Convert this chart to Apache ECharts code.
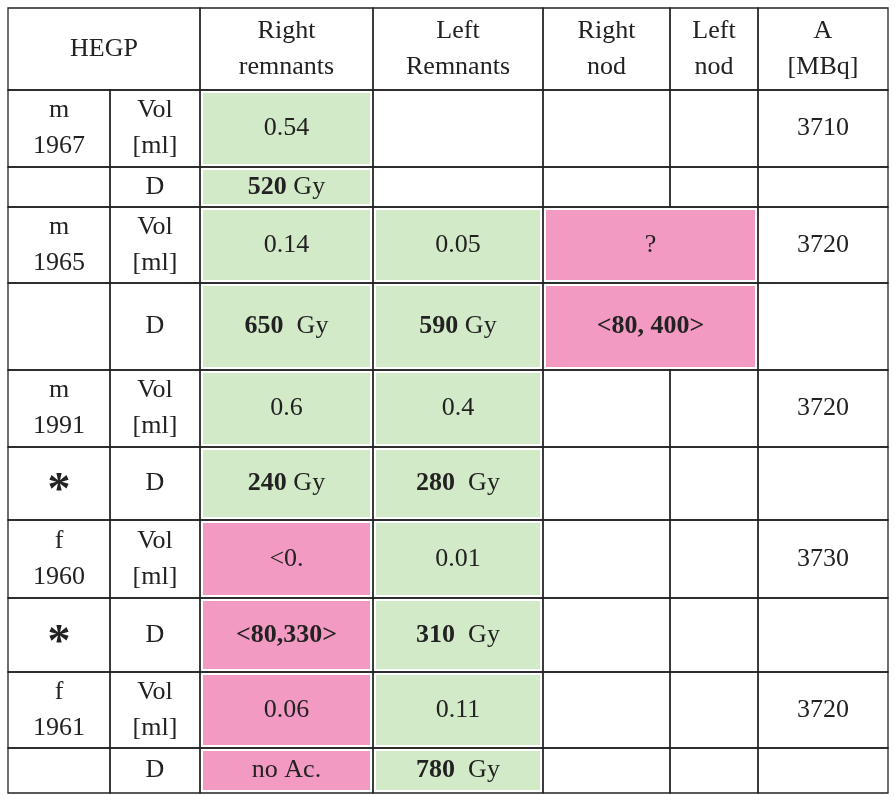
<!DOCTYPE html>
<html><head><meta charset="utf-8">
<script src="https://cdn.jsdelivr.net/npm/echarts@6/dist/echarts.min.js"></script>
<style>html,body{margin:0;background:#fff}#c{width:895px;height:800px}</style>
</head><body><div id="c"></div>
<script>
// table structure
const colEdges = [0, 102, 192, 365, 535, 662, 750, 880];
const rowEdges = [0, 82, 159, 199, 275, 362, 439, 512, 590, 664, 740, 785];
const headers = ["HEGP", "Right\nremnants", "Left\nRemnants", "Right\nnod", "Left\nnod", "A\n[MBq]"];
// body columns (one entry per body row)
const patient = ["m\n1967", "", "m\n1965", "", "m\n1991", "{s|*}", "f\n1960", "{s|*}", "f\n1961", ""];
const quantity = ["Vol\n[ml]", "D", "Vol\n[ml]", "D", "Vol\n[ml]", "D", "Vol\n[ml]", "D", "Vol\n[ml]", "D"];
const rightRemnants = ["0.54", "{b|520} Gy", "0.14", "{b|650}  Gy", "0.6", "{b|240} Gy", "<0.", "{b|<80,330>}", "0.06", "no Ac."];
const rightRemFill = ["g", "g", "g", "g", "g", "g", "p", "p", "p", "p"];
const leftRemnants = ["", "", "0.05", "{b|590} Gy", "0.4", "{b|280}  Gy", "0.01", "{b|310}  Gy", "0.11", "{b|780}  Gy"];
const leftRemFill = ["", "", "g", "g", "g", "g", "g", "g", "g", "g"];
const nodules = ["", "", "?", "{b|<80, 400>}", "", "", "", "", "", ""]; // merged right+left nod
const nodFill = ["", "", "p", "p", "", "", "", "", "", ""];
const activity = ["3710", "", "3720", "", "3720", "", "3730", "", "3720", ""];

const fills = { g: "#d3eac8", p: "#f39ac3", "": null };
const cells = []; // [c0,c1,r0,r1,text,fill]
cells.push([0, 2, 0, 1, headers[0], ""]);
for (let i = 1; i < headers.length; i++) cells.push([i + 1, i + 2, 0, 1, headers[i], ""]);
for (let r = 0; r < patient.length; r++) {
  const R = r + 1;
  cells.push([0, 1, R, R + 1, patient[r], ""]);
  cells.push([1, 2, R, R + 1, quantity[r], ""]);
  cells.push([2, 3, R, R + 1, rightRemnants[r], rightRemFill[r]]);
  cells.push([3, 4, R, R + 1, leftRemnants[r], leftRemFill[r]]);
  if (nodFill[r]) cells.push([4, 6, R, R + 1, nodules[r], nodFill[r]]);
  else { cells.push([4, 5, R, R + 1, "", ""]); cells.push([5, 6, R, R + 1, "", ""]); }
  cells.push([6, 7, R, R + 1, activity[r], ""]);
}
const data = cells.map(c => [colEdges[c[0]], colEdges[c[1]], rowEdges[c[2]], rowEdges[c[3]], c[4], c[5]]);

const chart = echarts.init(document.getElementById('c'));
chart.setOption({
  animation: false,
  grid: { left: 8, top: 8, width: 880, height: 785 },
  xAxis: { type: 'value', min: 0, max: 880, show: false },
  yAxis: { type: 'value', min: 0, max: 785, inverse: true, show: false },
  series: [{
    type: 'custom',
    data: data,
    renderItem: function (params, api) {
      const d = data[params.dataIndex];
      const p0 = api.coord([d[0], d[2]]);
      const p1 = api.coord([d[1], d[3]]);
      const x = p0[0], y = p0[1], w = p1[0] - p0[0], h = p1[1] - p0[1];
      const children = [];
      if (fills[d[5]]) children.push({ type: 'rect', shape: { x: x + 3, y: y + 3, width: w - 6, height: h - 6 }, style: { fill: fills[d[5]] } });
      children.push({ type: 'rect', shape: { x: x, y: y, width: w, height: h }, style: { fill: null, stroke: '#222', lineWidth: 1.3 } });
      children.push({ type: 'text', x: x + w / 2, y: y + h / 2, style: {
        text: d[4], align: 'center', verticalAlign: 'middle',
        font: '26px "Liberation Serif", serif', fill: '#222', lineHeight: 36,
        rich: { b: { fontWeight: 'bold', fontSize: 26, fontFamily: 'Liberation Serif' },
                s: { fontWeight: 'bold', fontSize: 46, fontFamily: 'Liberation Serif', padding: [18, 0, 0, 0] } }
      } });
      return { type: 'group', children: children };
    }
  }]
});
</script></body></html>
